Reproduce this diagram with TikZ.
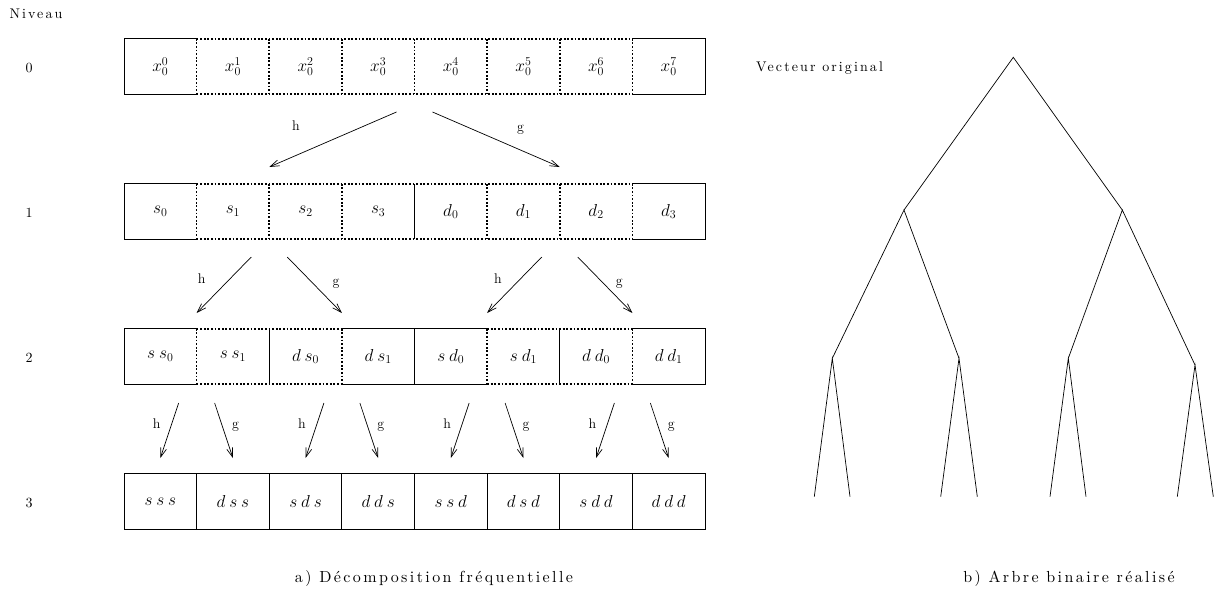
\documentclass[tikz,border=0pt]{standalone}
\usepackage{fontspec}
\usetikzlibrary{arrows.meta}
\newfontfamily\lsf{lmroman10-regular.otf}[LetterSpace=15]
\DeclareMathSizes{16}{16}{12}{9}
\newcommand\lk{\mkern4mu}
\tikzset{
  cell/.style={minimum width=72.2pt, minimum height=55pt, inner sep=0pt, font=\fontsize{16}{18}\selectfont},
  solidline/.style={line width=0.8pt},
  dotline/.style={line width=1.6pt, dash pattern=on 1.8pt off 1.8pt},
  arr/.style={line width=0.7pt, -{Straight Barb[length=9pt,width=6pt]}},
  lab/.style={font=\fontsize{14}{16}\selectfont, anchor=base, inner sep=0pt},
  txt/.style={font=\lsf\fontsize{14}{16}\selectfont, inner sep=0pt},
  captxt/.style={font=\lsf\fontsize{16}{18}\selectfont, inner sep=0pt},
  edge/.style={line width=0.7pt},
}
\begin{document}
\begin{tikzpicture}[x=1pt,y=-1pt]
\useasboundingbox (0,0) rectangle (1215,590);
% ---------- cells ----------
\foreach \k/\t in {0/{$x_0^0$},1/{$x_0^1$},2/{$x_0^2$},3/{$x_0^3$},4/{$x_0^4$},5/{$x_0^5$},6/{$x_0^6$},7/{$x_0^7$}}
  \node[cell] (c0\k) at ({124+72.625*(\k+0.5)},66.5) {\t};
\foreach \k/\t in {0/{$s_0$},1/{$s_1$},2/{$s_2$},3/{$s_3$},4/{$d_0$},5/{$d_1$},6/{$d_2$},7/{$d_3$}}
  \node[cell] (c1\k) at ({124+72.625*(\k+0.5)},211.5) {\t};
\foreach \k/\t in {0/{$s\lk s_0$},1/{$s\lk s_1$},2/{$d\lk s_0$},3/{$d\lk s_1$},4/{$s\lk d_0$},5/{$s\lk d_1$},6/{$d\lk d_0$},7/{$d\lk d_1$}}
  \node[cell] (c2\k) at ({124+72.625*(\k+0.5)},356.5) {\t};
\foreach \k/\t in {0/{$s\lk s\lk s$},1/{$d\lk s\lk s$},2/{$s\lk d\lk s$},3/{$d\lk d\lk s$},4/{$s\lk s\lk d$},5/{$d\lk s\lk d$},6/{$s\lk d\lk d$},7/{$d\lk d\lk d$}}
  \node[cell] (c3\k) at ({124+72.625*(\k+0.5)},501.5) {\t};
% ---------- row 0 borders ----------
\draw[solidline] (c00.north east) -- (c00.north west) -- (c00.south west) -- (c00.south east);
\draw[solidline] (c07.north west) -- (c07.north east) -- (c07.south east) -- (c07.south west);
\draw[dotline] (c01.north west) -- (c06.north east) (c01.south west) -- (c06.south east);
\foreach \k in {1,...,7} \draw[dotline] (c0\k.north west) -- (c0\k.south west);
% ---------- row 1 borders ----------
\draw[solidline] (c10.north east) -- (c10.north west) -- (c10.south west) -- (c10.south east);
\draw[solidline] (c17.north west) -- (c17.north east) -- (c17.south east) -- (c17.south west);
\draw[dotline] (c11.north west) -- (c16.north east) (c11.south west) -- (c16.south east);
\foreach \k in {1,2,3,5,6,7} \draw[dotline] (c1\k.north west) -- (c1\k.south west);
\draw[solidline] (c14.north west) -- (c14.south west);
% ---------- row 2 borders ----------
\draw[solidline] (c20.north east) -- (c20.north west) -- (c20.south west) -- (c20.south east);
\draw[solidline] (c27.north west) -- (c27.north east) -- (c27.south east) -- (c27.south west);
\draw[solidline] (c23.north west) -- (c24.north east) (c23.south west) -- (c24.south east);
\draw[dotline] (c21.north west) -- (c22.north east) (c21.south west) -- (c22.south east);
\draw[dotline] (c25.north west) -- (c26.north east) (c25.south west) -- (c26.south east);
\foreach \k in {1,3,5,7} \draw[dotline] (c2\k.north west) -- (c2\k.south west);
\foreach \k in {2,4,6} \draw[solidline] (c2\k.north west) -- (c2\k.south west);
% ---------- row 3 borders ----------
\draw[solidline] (c30.north west) rectangle (c37.south east);
\foreach \k in {1,...,7} \draw[solidline] (c3\k.north west) -- (c3\k.south west);
% ---------- arrows level 0 -> 1 ----------
\coordinate (a0hs) at (396.5,112); \coordinate (a0he) at (269.25,167);
\coordinate (a0gs) at (432.5,112); \coordinate (a0ge) at (559.75,167);
\draw[arr] (a0hs) -- (a0he);
\draw[arr] (a0gs) -- (a0ge);
\node[lab] (l0h) at (296,130) {h};
\node[lab] (l0g) at (520.5,131) {g};
% ---------- arrows level 1 -> 2 ----------
\coordinate (a1hs) at (251.25,257); \coordinate (a1he) at (196.625,313);
\coordinate (a1gs) at (287.25,257); \coordinate (a1ge) at (341.875,313);
\coordinate (a2hs) at (541.75,257); \coordinate (a2he) at (487.125,313);
\coordinate (a2gs) at (577.75,257); \coordinate (a2ge) at (632.375,313);
\draw[arr] (a1hs) -- (a1he);
\draw[arr] (a1gs) -- (a1ge);
\draw[arr] (a2hs) -- (a2he);
\draw[arr] (a2gs) -- (a2ge);
\node[lab] (l1h) at (201.7,283) {h};
\node[lab] (l1g) at (336,285) {g};
\node[lab] (l2h) at (498,283) {h};
\node[lab] (l2g) at (619.3,285) {g};
% ---------- arrows level 2 -> 3 ----------
\foreach \i/\b in {1/196.625,2/341.875,3/487.125,4/632.375}{
  \coordinate (b\i hs) at ({\b-18},403); \coordinate (b\i he) at ({\b-36.3},458);
  \coordinate (b\i gs) at ({\b+18},403); \coordinate (b\i ge) at ({\b+36.3},458);
  \draw[arr] (b\i hs) -- (b\i he);
  \draw[arr] (b\i gs) -- (b\i ge);
  \node[lab] (m\i h) at ({\b-40},428) {h};
  \node[lab] (m\i g) at ({\b+39},428) {g};
}
% ---------- level labels ----------
\node[txt] (niv) at (36,14) {Niveau};
\node[txt] (n0) at (29,67.5) {0};
\node[txt] (n1) at (29,212.5) {1};
\node[txt] (n2) at (29,357.5) {2};
\node[txt] (n3) at (29,502.5) {3};
% ---------- captions ----------
\node[captxt] (capa) at (434,578) {a) Décomposition fréquentielle};
\node[captxt] (capb) at (1069,578) {b) Arbre binaire réalisé};
\node[txt, anchor=west] (vo) at (756,68) {Vecteur original};
% ---------- tree ----------
\coordinate (root) at (1013.3,57.3);
\coordinate (tL) at (904,210);
\coordinate (tR) at (1122.3,210);
\coordinate (tLL) at (832.3,358.3);
\coordinate (tLR) at (959,358.3);
\coordinate (tRL) at (1068.3,358.3);
\coordinate (tRR) at (1195,365);
\foreach \n/\x in {1/814.3,2/850,3/940.7,4/977.3,5/1050,6/1086,7/1177.3,8/1213.3}
  \coordinate (leaf\n) at (\x,496.7);
\draw[edge] (tL) -- (root) -- (tR);
\draw[edge] (tLL) -- (tL) -- (tLR);
\draw[edge] (tRL) -- (tR) -- (tRR);
\draw[edge] (leaf1) -- (tLL) -- (leaf2);
\draw[edge] (leaf3) -- (tLR) -- (leaf4);
\draw[edge] (leaf5) -- (tRL) -- (leaf6);
\draw[edge] (leaf7) -- (tRR) -- (leaf8);
\end{tikzpicture}
\end{document}
